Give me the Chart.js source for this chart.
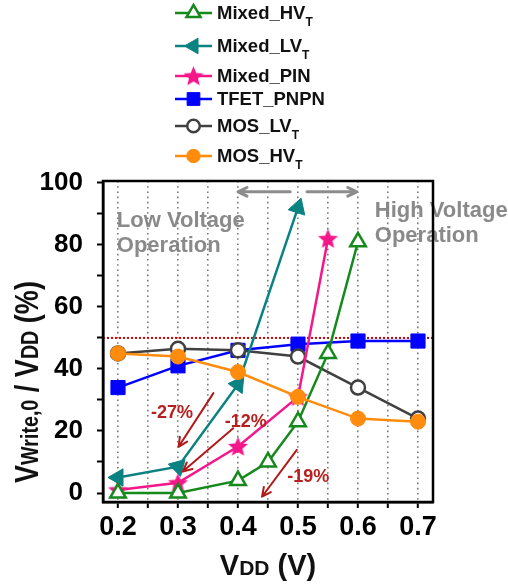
<!DOCTYPE html>
<html>
<head>
<meta charset="utf-8">
<script src="https://cdn.jsdelivr.net/npm/chart.js@4/dist/chart.umd.min.js"></script>
<style>
  html, body { margin: 0; padding: 0; background: #fff; }
  #wrap { width: 508px; height: 584px; }
</style>
</head>
<body>
<div id="wrap"><canvas id="chart" width="508" height="584"></canvas></div>
<script>
// ---- series names (subscript part kept separately) ----
const seriesNames = ['Mixed_HV', 'Mixed_LV', 'Mixed_PIN', 'TFET_PNPN', 'MOS_LV', 'MOS_HV'];
const seriesSubs  = ['T', 'T', '', '', 'T', 'T'];

// ---- measured V_write,0 / V_DD (%) versus V_DD (V) ----
const mixedHvVdd  = [0.2, 0.3, 0.4, 0.45, 0.5, 0.55, 0.6];
const mixedHvVal  = [0, 0, 4, 10, 23, 45, 81];
const mixedLvVdd  = [0.2, 0.3, 0.4, 0.5];
const mixedLvVal  = [5, 8.5, 35, 92];
const mixedPinVdd = [0.2, 0.3, 0.4, 0.5, 0.55];
const mixedPinVal = [1, 3.3, 15, 31, 82];
const fullVdd     = [0.2, 0.3, 0.4, 0.5, 0.6, 0.7];
const tfetVal     = [34, 41, 46, 48, 49, 49];
const mosLvVal    = [45, 46.5, 46, 44, 34, 24];
const mosHvVal    = [45, 44, 39, 31, 24, 23];

// ---- axes ----
const xTickValues = [0.2, 0.25, 0.3, 0.35, 0.4, 0.45, 0.5, 0.55, 0.6, 0.65, 0.7];
const yTickValues = [0, 10, 20, 30, 40, 50, 60, 70, 80, 90, 100];
const refLevel = 50;

// ---- annotation texts ----
const reductionLabels = ['-27%', '-12%', '-19%'];
const lowRegionText  = ['Low Voltage', 'Operation'];
const highRegionText = ['High Voltage', 'Operation'];

const FONT = '"Liberation Sans", Arial, Helvetica, sans-serif';

// annotation placement, in axis units
const redArrows = [
  { from: [0.359, 32.2], to: [0.301, 14.9] },
  { from: [0.392, 20.9], to: [0.308, 6.9] },
  { from: [0.498, 13.9], to: [0.440, -1.2] }
];
const redLabelPos = [[0.29, 25.8], [0.413, 23.0], [0.517, 5.3]];
const greyArrows = [
  { from: [0.487, 97.1], to: [0.400, 97.1] },
  { from: [0.515, 97.1], to: [0.598, 97.1] }
];
const lowTextPos  = [0.198, 85.9, 77.8];
const highTextPos = [0.628, 89.0, 81.0];

function pts(xs, ys) { return xs.map((x, i) => ({ x: x, y: ys[i] })); }

// filled five-point star used as the Mixed_PIN marker
function starImage(color, r) {
  const s = Math.ceil(2 * r + 2);
  const c = document.createElement('canvas');
  c.width = s; c.height = s;
  const g = c.getContext('2d');
  const cx = s / 2, cy = s / 2 + r * 0.08, ri = r * 0.45;
  g.beginPath();
  for (let i = 0; i < 10; i++) {
    const rad = (i % 2 === 0) ? r : ri;
    const a = -Math.PI / 2 + i * Math.PI / 5;
    const px = cx + rad * Math.cos(a), py = cy + rad * Math.sin(a);
    if (i === 0) g.moveTo(px, py); else g.lineTo(px, py);
  }
  g.closePath();
  g.fillStyle = color;
  g.fill();
  return c;
}

const GREEN = '#15891c', TEAL = '#0b8282', PINK = '#f5168a', BLUE = '#0000ff', GREY = '#404040', ORANGE = '#ff8c0c';
const starBig = starImage(PINK, 10.5);

const datasets = [
  { label: seriesNames[0], data: pts(mixedHvVdd, mixedHvVal), borderColor: GREEN, backgroundColor: '#ffffff',
    pointStyle: 'triangle', pointRadius: 9, pointBorderWidth: 2.5, pointBorderColor: GREEN, pointBackgroundColor: '#ffffff', order: 1 },
  { label: seriesNames[1], data: pts(mixedLvVdd, mixedLvVal), borderColor: TEAL, backgroundColor: TEAL,
    pointStyle: 'triangle', pointRadius: 10, pointBorderWidth: 1, pointBorderColor: TEAL, pointBackgroundColor: TEAL,
    pointRotation: [-90, 45, 35, 18], order: 2 },
  { label: seriesNames[2], data: pts(mixedPinVdd, mixedPinVal), borderColor: PINK, backgroundColor: PINK,
    pointStyle: starBig, pointRadius: 10, order: 3 },
  { label: seriesNames[3], data: pts(fullVdd, tfetVal), borderColor: BLUE, backgroundColor: BLUE,
    pointStyle: 'rect', pointRadius: 10, pointBorderWidth: 1, pointBorderColor: BLUE, pointBackgroundColor: BLUE, order: 5 },
  { label: seriesNames[4], data: pts(fullVdd, mosLvVal), borderColor: GREY, backgroundColor: '#ffffff',
    pointStyle: 'circle', pointRadius: 7, pointBorderWidth: 2.5, pointBorderColor: GREY, pointBackgroundColor: '#ffffff', order: 4 },
  { label: seriesNames[5], data: pts(fullVdd, mosHvVal), borderColor: ORANGE, backgroundColor: ORANGE,
    pointStyle: 'circle', pointRadius: 7.5, pointBorderWidth: 1, pointBorderColor: ORANGE, pointBackgroundColor: ORANGE, order: 0 }
];
datasets.forEach(d => { d.showLine = true; d.borderWidth = 2.5; d.tension = 0; d.fill = false; });

// text made of normal and smaller runs sharing one baseline (shift = extra baseline drop)
function runWidth(ctx, runs) {
  let w = 0;
  runs.forEach(r => { ctx.font = 'bold ' + r.size + 'px ' + FONT; w += ctx.measureText(r.t).width; });
  return w;
}
function drawRuns(ctx, runs, x, y) {
  runs.forEach(r => {
    ctx.font = 'bold ' + r.size + 'px ' + FONT;
    ctx.fillText(r.t, x, y + (r.shift || 0));
    x += ctx.measureText(r.t).width;
  });
}

function arrow(ctx, x1, y1, x2, y2, head, width, color) {
  ctx.save();
  ctx.strokeStyle = color;
  ctx.lineWidth = width;
  ctx.lineCap = 'round';
  ctx.lineJoin = 'round';
  ctx.beginPath();
  ctx.moveTo(x1, y1); ctx.lineTo(x2, y2);
  const a = Math.atan2(y2 - y1, x2 - x1);
  ctx.moveTo(x2 - head * Math.cos(a - 0.45), y2 - head * Math.sin(a - 0.45));
  ctx.lineTo(x2, y2);
  ctx.lineTo(x2 - head * Math.cos(a + 0.45), y2 - head * Math.sin(a + 0.45));
  ctx.stroke();
  ctx.restore();
}

const decorations = {
  id: 'decorations',
  beforeDraw(chart) {
    const ctx = chart.ctx, xs = chart.scales.x, ys = chart.scales.y;
    ctx.save();
    ctx.fillStyle = '#ffffff';
    ctx.fillRect(0, 0, chart.width, chart.height);
    // region captions sit under the grid
    ctx.fillStyle = '#8a8a8a';
    ctx.font = 'bold 22px ' + FONT;
    ctx.textAlign = 'left';
    ctx.textBaseline = 'alphabetic';
    ctx.fillText(lowRegionText[0], xs.getPixelForValue(lowTextPos[0]), ys.getPixelForValue(lowTextPos[1]));
    ctx.fillText(lowRegionText[1], xs.getPixelForValue(lowTextPos[0]), ys.getPixelForValue(lowTextPos[2]));
    ctx.fillText(highRegionText[0], xs.getPixelForValue(highTextPos[0]), ys.getPixelForValue(highTextPos[1]));
    ctx.fillText(highRegionText[1], xs.getPixelForValue(highTextPos[0]), ys.getPixelForValue(highTextPos[2]));
    ctx.restore();
  },
  beforeDatasetsDraw(chart) {
    const ctx = chart.ctx, a = chart.chartArea, ys = chart.scales.y;
    const y = ys.getPixelForValue(refLevel);
    ctx.save();
    ctx.strokeStyle = '#d00000';
    ctx.lineWidth = 2;
    ctx.setLineDash([2, 2]);
    ctx.beginPath();
    ctx.moveTo(a.left, y); ctx.lineTo(a.right, y);
    ctx.stroke();
    ctx.restore();
  },
  afterDatasetsDraw(chart) {
    const ctx = chart.ctx, a = chart.chartArea, xs = chart.scales.x, ys = chart.scales.y;
    const P = p => [xs.getPixelForValue(p[0]), ys.getPixelForValue(p[1])];
    greyArrows.forEach(g => {
      const f = P(g.from), t = P(g.to);
      arrow(ctx, f[0], f[1], t[0], t[1], 10, 3, '#8c8c8c');
    });
    redArrows.forEach(r => {
      const f = P(r.from), t = P(r.to);
      arrow(ctx, f[0], f[1], t[0], t[1], 10, 2, '#b01a1a');
    });
    ctx.save();
    ctx.fillStyle = '#b8201f';
    ctx.font = 'bold 18px ' + FONT;
    ctx.textAlign = 'center';
    ctx.textBaseline = 'middle';
    reductionLabels.forEach((t, i) => {
      const p = P(redLabelPos[i]);
      ctx.fillText(t, p[0], p[1]);
    });
    ctx.restore();
    // plot frame
    ctx.save();
    ctx.strokeStyle = '#000';
    ctx.lineWidth = 2.5;
    ctx.strokeRect(a.left, a.top, a.right - a.left, a.bottom - a.top);
    ctx.restore();
  },
  afterDraw(chart) {
    const ctx = chart.ctx;
    ctx.save();
    ctx.fillStyle = '#000';
    ctx.textBaseline = 'alphabetic';
    ctx.textAlign = 'left';

    // legend
    const legendY = [13, 46, 76, 99, 126, 156];
    chart.data.datasets.forEach((d, i) => {
      const y = legendY[i];
      ctx.save();
      ctx.strokeStyle = d.borderColor;
      ctx.lineWidth = 2.5;
      ctx.beginPath();
      ctx.moveTo(175, y); ctx.lineTo(212, y);
      ctx.stroke();
      ctx.fillStyle = d.pointBackgroundColor || d.backgroundColor;
      ctx.strokeStyle = d.pointBorderColor || d.borderColor;
      ctx.lineWidth = d.pointBorderWidth || 1;
      const rot = (i === 1) ? -90 : 0;
      Chart.helpers.drawPoint(ctx, {
        pointStyle: d.pointStyle,
        rotation: rot,
        radius: (i === 2) ? 10 : d.pointRadius * 0.9,
        borderWidth: d.pointBorderWidth || 0
      }, 193.5, y);
      ctx.restore();
      ctx.fillStyle = '#111';
      const runs = [{ t: seriesNames[i], size: 18.5 }];
      if (seriesSubs[i]) runs.push({ t: seriesSubs[i], size: 12, shift: 7 });
      drawRuns(ctx, runs, 217, y + 6);
    });

    // x-axis title: V_DD (V)
    const xRuns = [{ t: 'V', size: 29 }, { t: 'DD', size: 21 }, { t: ' (V)', size: 29 }];
    const a = chart.chartArea;
    const xw = runWidth(ctx, xRuns);
    drawRuns(ctx, xRuns, (a.left + a.right) / 2 - xw / 2, 575);

    // y-axis title: V_Write,0 / V_DD (%), set in a condensed width
    const yRuns = [{ t: 'V', size: 33 }, { t: 'Write,0', size: 24 }, { t: ' / V', size: 33 },
                   { t: 'DD', size: 24 }, { t: ' (%)', size: 33 }];
    ctx.translate(38, 483);
    ctx.rotate(-Math.PI / 2);
    ctx.scale(0.82, 1);
    drawRuns(ctx, yRuns, 0, 0);
    ctx.restore();
  }
};

new Chart(document.getElementById('chart'), {
  type: 'scatter',
  data: { datasets: datasets },
  options: {
    responsive: false,
    animation: false,
    devicePixelRatio: 1,
    layout: { padding: { top: 181, right: 75, left: 0, bottom: 0 } },
    plugins: { legend: { display: false }, tooltip: { enabled: false }, title: { display: false } },
    scales: {
      x: {
        type: 'linear', min: 0.175, max: 0.725,
        afterBuildTicks: s => { s.ticks = xTickValues.map(v => ({ value: v })); },
        afterFit: s => { s.height = 82; },
        ticks: {
          autoSkip: false, maxRotation: 0, padding: 3, color: '#000',
          font: { family: FONT, size: 27, weight: 'bold' },
          callback: v => (Math.abs(v * 10 - Math.round(v * 10)) < 1e-6 ? v.toFixed(1) : '')
        },
        grid: {
          drawOnChartArea: true, color: '#7a7a7a', lineWidth: 1.6,
          drawTicks: true, tickLength: 6, tickColor: '#000', tickWidth: 2, tickBorderDash: []
        },
        border: { display: true, color: '#000', width: 2.5, dash: [1.6, 3.6] },
        title: { display: false }
      },
      y: {
        type: 'linear', min: -2.9, max: 100.6,
        afterBuildTicks: s => { s.ticks = yTickValues.map(v => ({ value: v })); },
        afterFit: s => { s.width = 103; },
        ticks: {
          autoSkip: false, padding: 14, color: '#000',
          font: { family: FONT, size: 26, weight: 'bold' },
          callback: v => (v % 20 === 0 ? String(v) : '')
        },
        grid: { drawOnChartArea: false, drawTicks: true, tickLength: 6, tickColor: '#000', tickWidth: 2 },
        border: { display: true, color: '#000', width: 2.5 },
        title: { display: false }
      }
    }
  },
  plugins: [decorations]
});
</script>
</body>
</html>
